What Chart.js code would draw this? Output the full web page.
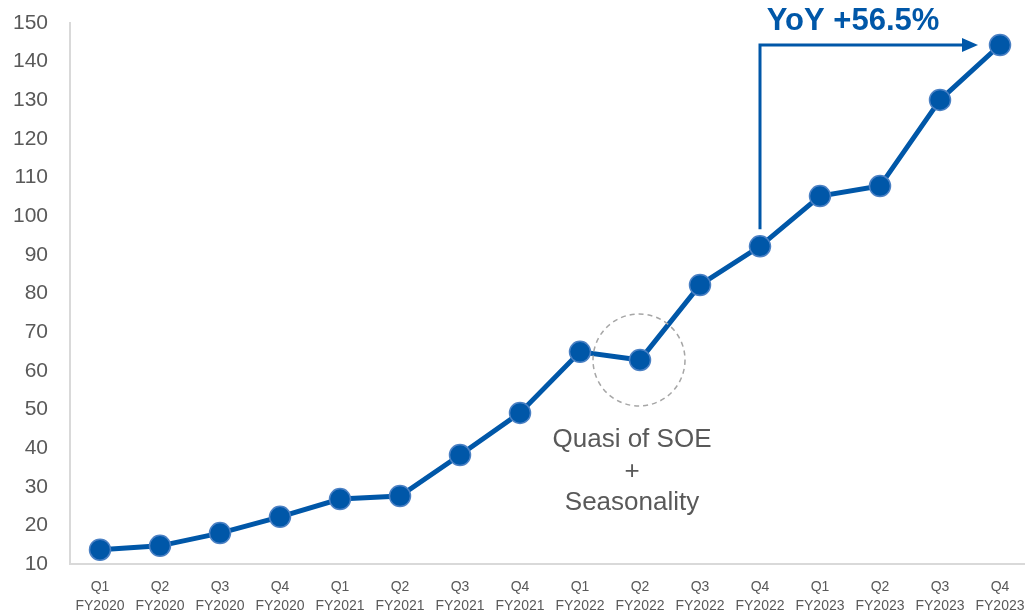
<!DOCTYPE html>
<html>
<head>
<meta charset="utf-8">
<script src="https://cdn.jsdelivr.net/npm/chart.js@4"></script>
<style>
  html, body { margin: 0; padding: 0; background: #fff; overflow: hidden; }
  #wrap { width: 1042px; height: 613px; position: relative; }
</style>
</head>
<body>
<div id="wrap"><canvas id="chart"></canvas></div>
<script>
// quarterly series
const quarters = ['Q1', 'Q2', 'Q3', 'Q4', 'Q1', 'Q2', 'Q3', 'Q4', 'Q1', 'Q2', 'Q3', 'Q4', 'Q1', 'Q2', 'Q3', 'Q4'];
const fiscalYears = ['FY2020', 'FY2020', 'FY2020', 'FY2020', 'FY2021', 'FY2021', 'FY2021', 'FY2021',
  'FY2022', 'FY2022', 'FY2022', 'FY2022', 'FY2023', 'FY2023', 'FY2023', 'FY2023'];
const values = [13.7, 14.7, 18.0, 22.2, 26.8, 27.6, 38.2, 49.1, 64.9, 62.8, 82.2, 92.2, 105.2, 107.8, 130.1, 144.3];

const yoyText = 'YoY +56.5%';
const yoyFrom = 11;   // Q4 FY2022
const yoyTo = 15;     // Q4 FY2023
const circledIndex = 9; // Q2 FY2022
const noteLines = ['Quasi of SOE', '+', 'Seasonality'];

const BLUE = '#0057a8';

// draws the YoY arrow, dashed circle and the note
const annotations = {
  id: 'annotations',
  afterDatasetsDraw(chart) {
    const { ctx, scales: { x, y } } = chart;
    ctx.save();

    // YoY elbow arrow
    const x0 = x.getPixelForValue(yoyFrom);
    const y0 = y.getPixelForValue(values[yoyFrom]) - 17;
    const yTop = y.getPixelForValue(values[yoyTo]);
    const x1 = x.getPixelForValue(yoyTo) - 22;
    ctx.strokeStyle = BLUE;
    ctx.lineWidth = 3;
    ctx.beginPath();
    ctx.moveTo(x0, y0);
    ctx.lineTo(x0, yTop);
    ctx.lineTo(x1 - 12, yTop);
    ctx.stroke();
    ctx.fillStyle = BLUE;
    ctx.beginPath();
    ctx.moveTo(x1, yTop);
    ctx.lineTo(x1 - 16, yTop - 7);
    ctx.lineTo(x1 - 16, yTop + 7);
    ctx.closePath();
    ctx.fill();

    ctx.font = 'bold 31px "Liberation Sans", Arial, sans-serif';
    ctx.textAlign = 'center';
    ctx.textBaseline = 'middle';
    ctx.fillText(yoyText, 853, 21);

    // dashed circle around the dip
    const cx = x.getPixelForValue(circledIndex) - 1;
    const cy = y.getPixelForValue(values[circledIndex]);
    ctx.strokeStyle = '#a6a6a6';
    ctx.lineWidth = 1.5;
    ctx.setLineDash([5, 4]);
    ctx.beginPath();
    ctx.arc(cx, cy, 46, 0, Math.PI * 2);
    ctx.stroke();
    ctx.setLineDash([]);

    // note under the circle
    ctx.fillStyle = '#595959';
    ctx.font = '26px "Liberation Sans", Arial, sans-serif';
    noteLines.forEach((line, i) => {
      ctx.fillText(line, cx - 7, cy + 80 + i * 31.5);
    });
    ctx.restore();
  }
};

new Chart(document.getElementById('chart'), {
  type: 'line',
  data: {
    labels: quarters.map((q, i) => [q, fiscalYears[i]]),
    datasets: [{
      data: values,
      borderColor: BLUE,
      borderWidth: 5,
      pointRadius: 10.5,
      pointBackgroundColor: BLUE,
      pointBorderColor: '#4a80c4',
      pointBorderWidth: 1.5,
      tension: 0
    }]
  },
  options: {
    responsive: true,
    maintainAspectRatio: false,
    animation: false,
    layout: { padding: { top: 23, right: 0, left: 0, bottom: 0 } },
    plugins: {
      legend: { display: false },
      tooltip: { enabled: false }
    },
    scales: {
      x: {
        offset: true,
        grid: { display: false, drawTicks: false },
        border: { color: '#d9d9d9', width: 2 },
        ticks: {
          color: '#595959',
          font: { family: 'Liberation Sans, Arial, sans-serif', size: 14, lineHeight: 1.35 },
          padding: 14,
          maxRotation: 0,
          autoSkip: false
        },
        afterFit: s => { s.height = 49; }
      },
      y: {
        min: 10,
        max: 150,
        grid: { display: false, drawTicks: false },
        border: { color: '#d9d9d9', width: 2 },
        ticks: {
          stepSize: 10,
          color: '#595959',
          font: { family: 'Liberation Sans, Arial, sans-serif', size: 21 },
          padding: 22
        },
        afterFit: s => {
          s.width = 70;
          s.paddingTop = 0;
          s.paddingBottom = 0;
        }
      }
    }
  },
  plugins: [annotations]
});
</script>
</body>
</html>
